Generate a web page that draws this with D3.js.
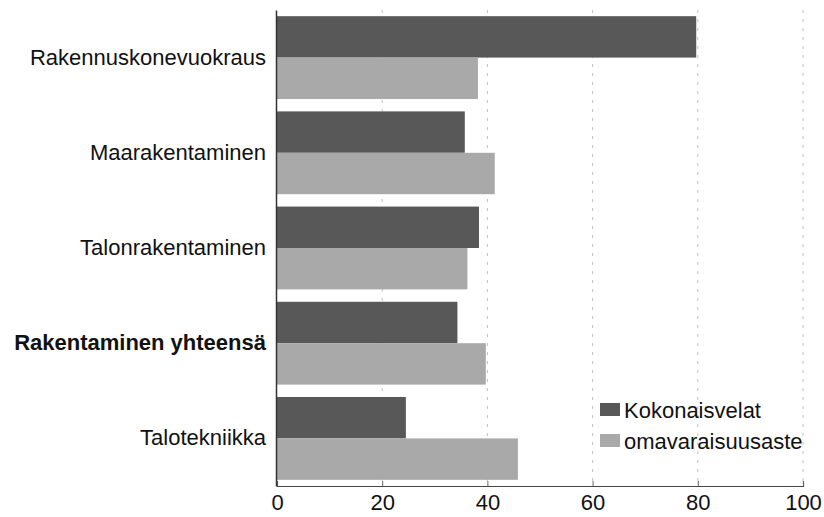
<!DOCTYPE html>
<html><head><meta charset="utf-8">
<script src="https://cdn.jsdelivr.net/npm/d3@7"></script>
<style>body{margin:0;background:#fff}svg{display:block}text{font-family:"Liberation Sans",Arial,sans-serif}</style>
</head><body>
<svg id="c" width="824" height="517"></svg>
<script>
const categories = ["Rakennuskonevuokraus","Maarakentaminen","Talonrakentaminen","Rakentaminen yhteensä","Talotekniikka"];
const boldCategories = ["Rakentaminen yhteensä"];
const seriesNames = ["Kokonaisvelat","omavaraisuusaste"];
const kokonaisvelat = [79.7, 35.7, 38.4, 34.3, 24.5];
const omavaraisuusaste = [38.2, 41.4, 36.2, 39.7, 45.8];
const xTicks = [0,20,40,60,80,100];

const colors = ["#585858","#a9a9a9"];
const FS = 22;
const svg = d3.select("#c");
const m = {l:277, r:803, t:10, b:486};
const x = d3.scaleLinear().domain([0,100]).range([m.l, m.r]);
const y = d3.scaleBand().domain(categories).range([m.t, m.b]).paddingInner(0.13).paddingOuter(0.065);
const ys = d3.scaleBand().domain(seriesNames).range([0, y.bandwidth()]);

// gridlines
svg.append("g").selectAll("line").data(xTicks.slice(1)).join("line")
  .attr("x1", d=>x(d)).attr("x2", d=>x(d)).attr("y1", m.t).attr("y2", m.b)
  .attr("stroke","#c0c0c0").attr("stroke-width",1).attr("stroke-dasharray","3,6");

const data = categories.map((c,i)=>({c, vals:[kokonaisvelat[i], omavaraisuusaste[i]]}));
const g = svg.append("g");
data.forEach(d=>{
  d.vals.forEach((v,j)=>{
    g.append("rect").attr("x", x(0)).attr("y", y(d.c)+ys(seriesNames[j]))
     .attr("width", x(v)-x(0)).attr("height", ys.bandwidth()).attr("fill", colors[j]);
  });
});

// x axis
const xa = svg.append("g").attr("transform",`translate(0,${m.b})`)
  .call(d3.axisBottom(x).tickValues(xTicks).tickSize(-5).tickPadding(8));
xa.select(".domain").attr("stroke","#444").attr("stroke-width",1.2);
xa.selectAll(".tick line").attr("stroke","#666");
xa.selectAll("text").attr("font-size",FS).attr("fill","#111").attr("font-family","Liberation Sans, Arial, sans-serif");

// y axis
const ya = svg.append("g").attr("transform",`translate(${m.l-1},0)`)
  .call(d3.axisLeft(y).tickSize(0).tickPadding(10));
ya.select(".domain").attr("stroke","#333").attr("stroke-width",1.5);
ya.selectAll("text").attr("font-size",FS).attr("fill","#111")
  .attr("font-family","Liberation Sans, Arial, sans-serif")
  .attr("font-weight", d=> boldCategories.includes(d) ? "bold" : "normal");

// legend
const lg = svg.append("g").attr("transform","translate(600,403)");
seriesNames.forEach((s,i)=>{
  lg.append("rect").attr("x",0).attr("y",i*31).attr("width",20).attr("height",13).attr("fill",colors[i]);
  lg.append("text").attr("x",24).attr("y",i*31+15).attr("font-size",FS).attr("fill","#111").text(s);
});
</script>
</body></html>
